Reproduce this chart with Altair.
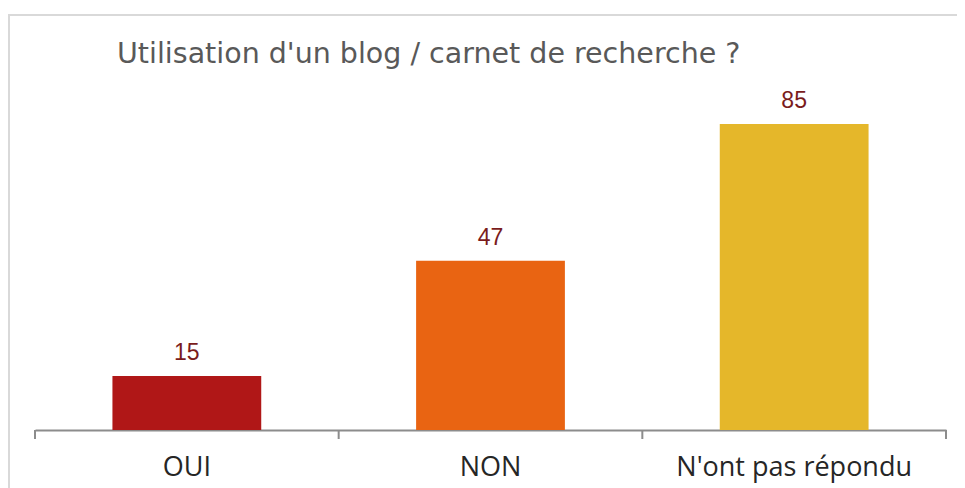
import altair as alt
import pandas as pd

categories = ["OUI", "NON", "N'ont pas répondu"]
values = [15, 47, 85]
colors = ["#B01717", "#E96412", "#E5B72A"]
title_text = "Utilisation d'un blog / carnet de recherche ?"

df = pd.DataFrame({"cat": categories, "val": values, "color": colors})
tdf = pd.DataFrame({"t": [title_text]})

W, H = 911, 360
PAD = {"left": 27, "top": 62, "right": 11, "bottom": 58}
P_IN = 0.51
bar_scale = alt.Scale(domain=categories, paddingInner=P_IN, paddingOuter=P_IN / 2)

x = alt.X("cat:N", sort=categories, scale=bar_scale,
          axis=alt.Axis(title=None, labelAngle=0, labelFontSize=27, labelColor="#262626",
                        labelFont="Open Sans", labelPadding=45, labelLimit=0,
                        labelBaseline="alphabetic",
                        domainColor="#8C8C8C", domainWidth=2, ticks=False))
y = alt.Y("val:Q", scale=alt.Scale(domain=[0, 100]), axis=None)

bars = alt.Chart(df).mark_bar().encode(
    x=x, y=y, color=alt.Color("color:N", scale=None)
)
labels = alt.Chart(df).mark_text(dy=-11, baseline="bottom", fontSize=23,
                                 font="Liberation Sans", color="#7A1C1C").encode(
    x=alt.X("cat:N", sort=categories, scale=bar_scale, axis=None),
    y=alt.Y("val:Q", scale=alt.Scale(domain=[0, 100]), axis=None),
    text="val:Q"
)
ticks = alt.Chart(df).mark_rule(color="#8C8C8C", strokeWidth=2).encode(
    x=alt.X("cat:N", sort=categories, bandPosition=0, axis=None,
            scale=alt.Scale(domain=categories, paddingInner=0, paddingOuter=0)),
    y=alt.value(H), y2=alt.value(H + 9)
)
end_tick = alt.Chart(df).mark_rule(color="#8C8C8C", strokeWidth=2).encode(
    x=alt.value(W), y=alt.value(H), y2=alt.value(H + 9)
)
border_top = alt.Chart(df).mark_rule(color="#D9D9D9", strokeWidth=2).encode(
    x=alt.value(-27), x2=alt.value(W + 11), y=alt.value(-55)
)
border_left = alt.Chart(df).mark_rule(color="#D9D9D9", strokeWidth=2).encode(
    x=alt.value(-26), y=alt.value(-56), y2=alt.value(H + 58)
)
title = alt.Chart(tdf).mark_text(align="left", baseline="alphabetic", fontSize=28.5,
                                 font="DejaVu Sans", color="#595959").encode(
    x=alt.value(82), y=alt.value(-7), text="t:N"
)

chart = alt.layer(border_top, border_left, bars, labels, ticks, end_tick, title).resolve_scale(
    x="independent"
).properties(
    width=W, height=H,
    autosize=alt.AutoSizeParams(type="none"),
    padding=PAD,
).configure_view(stroke=None)

chart.save("out.html", embed_options={"renderer": "svg", "actions": False})
